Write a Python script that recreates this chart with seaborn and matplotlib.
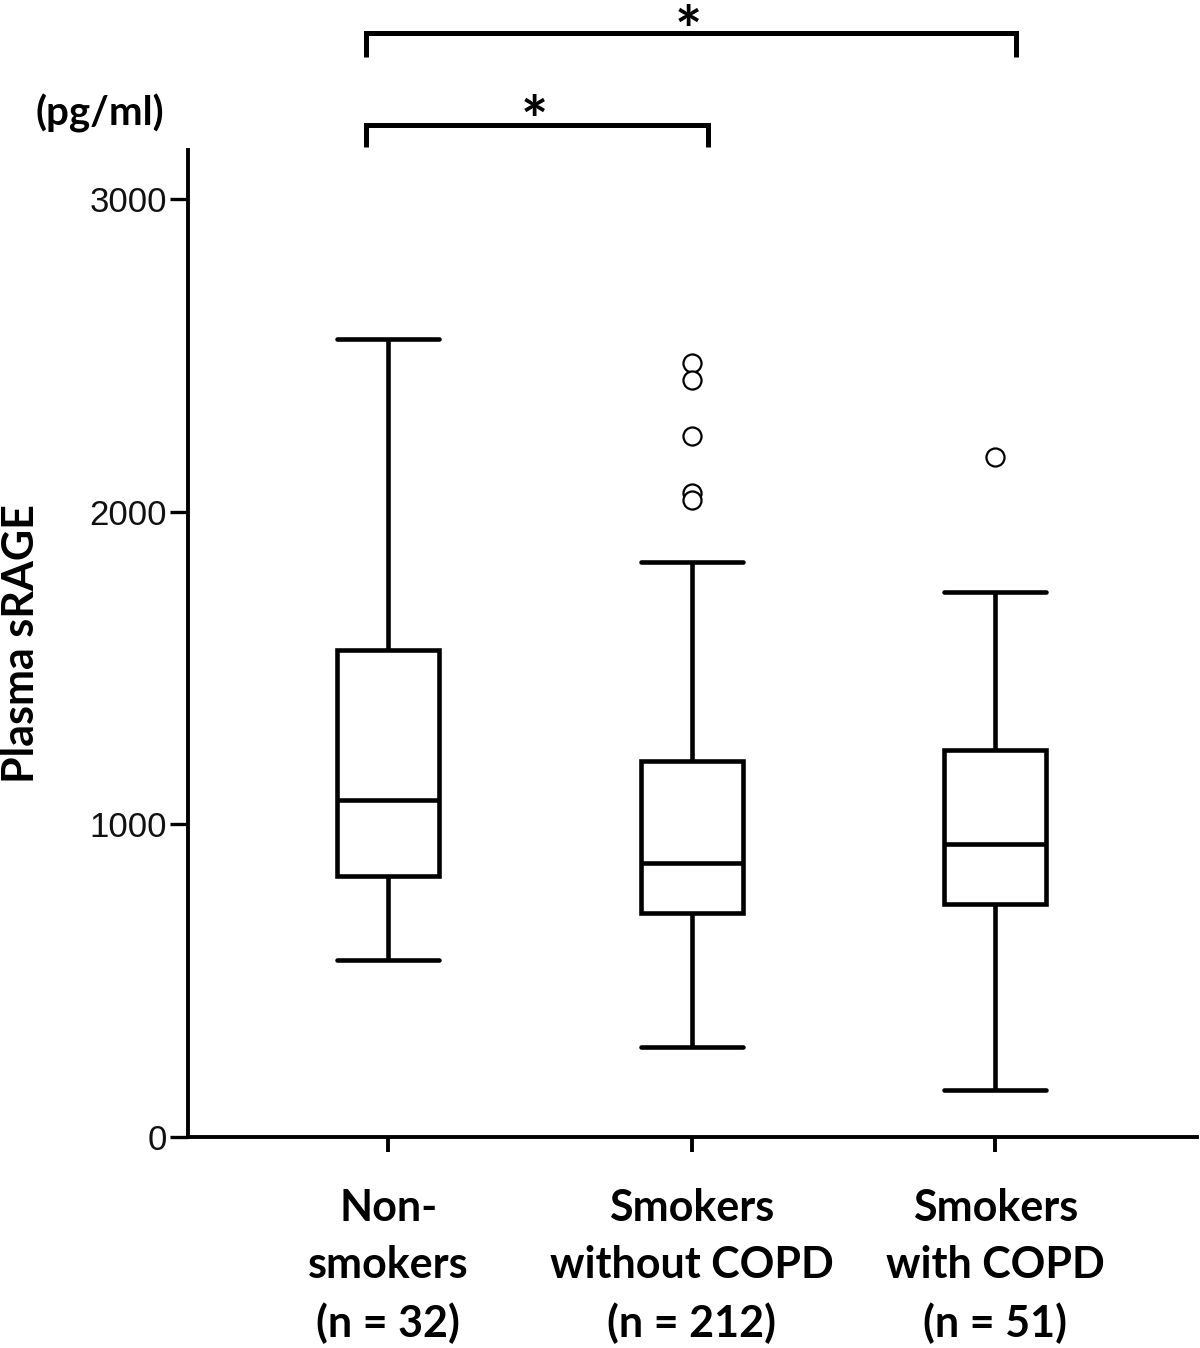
import numpy as np
import pandas as pd
import matplotlib
matplotlib.use("Agg")
import matplotlib.pyplot as plt
import seaborn as sns

# values (pg/ml)
groups = ["Non-\nsmokers\n(n = 32)",
          "Smokers\nwithout COPD\n(n = 212)",
          "Smokers\nwith COPD\n(n = 51)"]
whisker_low = [566, 288, 150]
q1 = [835, 716, 745]
median = [1078, 876, 937]
q3 = [1558, 1203, 1238]
whisker_high = [2552, 1839, 1743]
outliers_without = [2475, 2421, 2242, 2060, 2037]
outliers_with = [2175]
yticks = [0, 1000, 2000, 3000]

sns.set_theme(style="white")
plt.rcParams["font.family"] = ["Lato", "DejaVu Sans"]
plt.rcParams["text.color"] = "black"
plt.rcParams["axes.labelcolor"] = "black"
plt.rcParams["xtick.color"] = "black"
plt.rcParams["ytick.color"] = "black"

# five-number summaries -> long table; whis=(0, 100) makes whiskers hit min/max
rows = []
for i, g in enumerate(groups):
    for v in (whisker_low[i], q1[i], median[i], q3[i], whisker_high[i]):
        rows.append({"group": g, "value": v})
df = pd.DataFrame(rows)

out_df = pd.DataFrame({
    "group": [groups[1]] * len(outliers_without) + [groups[2]] * len(outliers_with),
    "value": outliers_without + outliers_with,
})

fig = plt.figure(figsize=(12, 13.48), dpi=100)
ax = fig.add_axes([188 / 1200, 1 - 1137 / 1348, 1009 / 1200, 987 / 1348])

sns.boxplot(data=df, x="group", y="value", order=groups, whis=(0, 100),
            width=0.336, color="white", linecolor="black", linewidth=3.3,
            fliersize=0, capwidths=0.336, ax=ax)
sns.stripplot(data=out_df, x="group", y="value", order=groups, jitter=False,
              marker="o", size=13, color="white", edgecolor="black",
              linewidth=1.6, ax=ax, zorder=5)

ax.set_xlim(-0.66, 2.665)
ax.set_ylim(0, 3157)
ax.set_yticks(yticks)
ax.set_yticklabels([str(t) for t in yticks], family="Liberation Sans",
                   fontsize=25, color="#111111")
ax.set_xticks(range(len(groups)))
ax.set_xticklabels(groups, fontsize=31, fontweight="bold", linespacing=1.5,
                   color="black")
ax.tick_params(axis="y", left=True, length=13, width=2.4, color="black", pad=2)
ax.tick_params(axis="x", bottom=True, length=11, width=2.8, color="black", pad=26)

for s in ["top", "right"]:
    ax.spines[s].set_visible(False)
for s in ["left", "bottom"]:
    ax.spines[s].set_color("black")
    ax.spines[s].set_linewidth(2.8)

ax.set_xlabel("")
ax.set_ylabel("Plasma sRAGE", fontsize=31, fontweight="bold", color="black")
ax.yaxis.set_label_coords(-0.146, 0.5)

fig.text(100 / 1200, 1 - 113 / 1348, "(pg/ml)", fontsize=29, fontweight="bold",
         ha="center", va="center", color="black")

# significance brackets
def bracket(x0, x1, y_top, y_drop, star_y):
    ax.plot([x0, x0, x1, x1], [y_drop, y_top, y_top, y_drop], color="black",
            lw=3.6, clip_on=False, solid_joinstyle="miter", solid_capstyle="butt")
    ax.text((x0 + x1) / 2 - 0.01, star_y, "*", fontsize=46, fontweight="bold",
            ha="center", va="center", clip_on=False, color="black")

bracket(-0.072, 1.053, 3237, 3166, 3240)
bracket(-0.072, 2.069, 3531, 3454, 3528)

fig.savefig("out.png", dpi=100)
